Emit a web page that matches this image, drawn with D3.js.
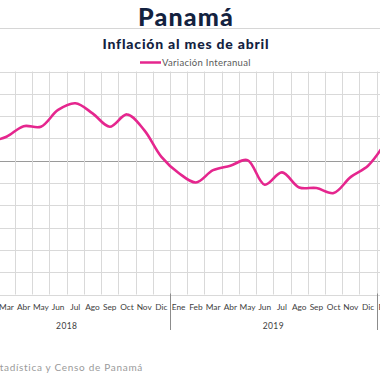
<!DOCTYPE html>
<html>
<head>
<meta charset="utf-8">
<script src="https://cdn.jsdelivr.net/npm/d3@7/dist/d3.min.js"></script>
<style>
  html, body { margin: 0; padding: 0; background: #fff; overflow: hidden; }
  svg { display: block; font-family: "Lato", "Open Sans", sans-serif; }
</style>
</head>
<body>
<svg id="chart" width="380" height="380"></svg>
<script>
// ---- data ----
const monthNames = ["Ene","Feb","Mar","Abr","May","Jun","Jul","Ago","Sep","Oct","Nov","Dic"];
const years = ["2018","2019","2020"];
const values2018 = [0.27, 0.34, 0.43, 0.62, 0.61, 0.91, 1.03, 0.85, 0.61, 0.83, 0.55, 0.07];
const values2019 = [-0.22, -0.39, -0.17, -0.09, 0.01, -0.43, -0.21, -0.48, -0.49, -0.58, -0.29, -0.09];
const values2020 = [0.32];
const yTicks = [-2.4, -2.0, -1.6, -1.2, -0.8, -0.4, 0, 0.4, 0.8, 1.2, 1.6];
const seriesName = "Variación Interanual";
const title = "Panamá";
const subtitle = "Inflación al mes de abril";
const source = "Fuente: Instituto Nacional de Estadística y Censo de Panamá";

// build table
const valuesByYear = [values2018, values2019, values2020];
const data = [];
years.forEach((y, yi) => {
  valuesByYear[yi].forEach((v, mi) => {
    data.push({ key: y + "-" + mi, year: y, month: monthNames[mi], value: v });
  });
});

const svg = d3.select("#chart");

// layout
const plotLeft = -36.6, monthStep = 17.22;
const plotTop = 71.5, plotBottom = 294.5;
const x = d3.scaleBand()
  .domain(data.map(d => d.key))
  .range([plotLeft, plotLeft + monthStep * data.length])
  .padding(0);
const y = d3.scaleLinear()
  .domain([d3.min(yTicks), d3.max(yTicks)])
  .range([plotBottom, plotTop]);

// title
svg.append("text").attr("x", 186).attr("y", 26)
  .attr("text-anchor", "middle").attr("font-size", 25).attr("font-weight", 900)
  .attr("letter-spacing", 1.2)
  .attr("fill", "#13223f").text(title);
svg.append("line").attr("x1", 0).attr("x2", 380).attr("y1", 28.5).attr("y2", 28.5)
  .attr("stroke", "#d6d6d6").attr("stroke-width", 1);
svg.append("text").attr("x", 186).attr("y", 48.5)
  .attr("text-anchor", "middle").attr("font-size", 14).attr("font-weight", 900)
  .attr("letter-spacing", 0.8)
  .attr("fill", "#13223f").text(subtitle);

// legend
svg.append("line").attr("x1", 140).attr("x2", 161).attr("y1", 62.5).attr("y2", 62.5)
  .attr("stroke", "#e5268e").attr("stroke-width", 2.5);
svg.append("text").attr("x", 162).attr("y", 66)
  .attr("font-size", 9.5).attr("letter-spacing", 0.3).attr("fill", "#595959").text(seriesName);

// grid: horizontal
const g = svg.append("g");
g.selectAll("line.h").data(yTicks).join("line")
  .attr("class", "h")
  .attr("x1", plotLeft).attr("x2", 400)
  .attr("y1", d => Math.round(y(d)) + 0.5).attr("y2", d => Math.round(y(d)) + 0.5)
  .attr("stroke", d => d === 0 ? "#9a9a9a" : "#d9d9d9")
  .attr("stroke-width", 1);

// grid: vertical at month boundaries
const boundaries = data.map(d => x(d.key)).concat([x(data[data.length - 1].key) + x.bandwidth()]);
g.selectAll("line.v").data(boundaries).join("line")
  .attr("class", "v")
  .attr("x1", d => Math.round(d) + 0.5).attr("x2", d => Math.round(d) + 0.5)
  .attr("y1", plotTop).attr("y2", plotBottom)
  .attr("stroke", "#d9d9d9").attr("stroke-width", 1);

// x axis: month labels
const axisG = svg.append("g");
axisG.selectAll("text.m").data(data).join("text")
  .attr("class", "m")
  .attr("x", d => x(d.key) + x.bandwidth() / 2)
  .attr("y", 310)
  .attr("text-anchor", "middle").attr("font-size", 8.3).attr("fill", "#404040")
  .text(d => d.month);

// year groups
const yearGroups = years.map(yr => {
  const ks = data.filter(d => d.year === yr).map(d => d.key);
  return { year: yr, start: x(ks[0]), end: x(ks[ks.length - 1]) + x.bandwidth() };
});
axisG.selectAll("line.ysep").data(yearGroups).join("line")
  .attr("class", "ysep")
  .attr("x1", d => Math.round(d.start) + 0.5).attr("x2", d => Math.round(d.start) + 0.5)
  .attr("y1", plotBottom - 1).attr("y2", 330)
  .attr("stroke", "#8c8c8c").attr("stroke-width", 1);
axisG.selectAll("text.yr").data(yearGroups.filter(d => d.end - d.start > 100)).join("text")
  .attr("class", "yr")
  .attr("x", d => (d.start + d.end) / 2)
  .attr("y", 328.5)
  .attr("text-anchor", "middle").attr("font-size", 8.5).attr("letter-spacing", 0.4).attr("fill", "#404040")
  .text(d => d.year);

// series line
const line = d3.line()
  .x(d => x(d.key) + x.bandwidth() / 2)
  .y(d => y(d.value))
  .curve(d3.curveCatmullRom.alpha(0.5));
svg.append("path").datum(data)
  .attr("d", line)
  .attr("fill", "none")
  .attr("stroke", "#e5268e")
  .attr("stroke-width", 2.6)
  .attr("stroke-linejoin", "round");

// source
svg.append("text").attr("x", 143).attr("y", 371)
  .attr("text-anchor", "end").attr("font-size", 10).attr("letter-spacing", 0.7).attr("fill", "#9a9a9a")
  .text(source);
</script>
</body>
</html>
